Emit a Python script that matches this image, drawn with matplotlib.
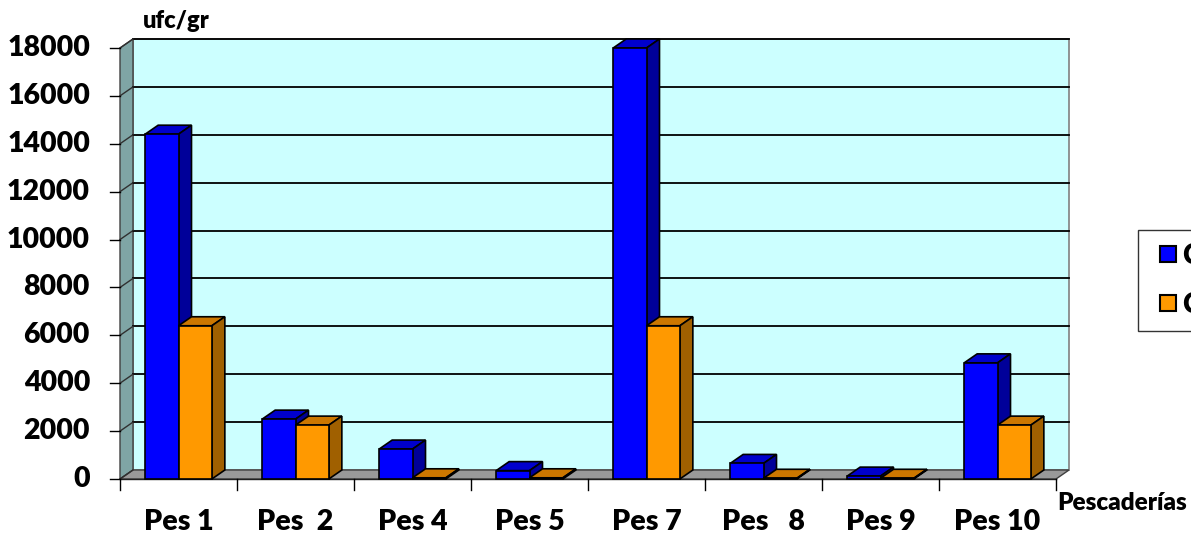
import matplotlib
matplotlib.use("Agg")
import matplotlib.pyplot as plt
from matplotlib.patches import Polygon
from matplotlib.lines import Line2D

categories = ["Pes 1", "Pes  2", "Pes 4", "Pes 5", "Pes 7", "Pes   8", "Pes 9", "Pes 10"]
series_names = ["Coliformes totales", "Coliformes fecales"]
blue_vals = [14400, 2500, 1250, 350, 18000, 650, 120, 4850]
orange_vals = [6400, 2250, 50, 50, 6400, 30, 30, 2250]
y_ticks = [0, 2000, 4000, 6000, 8000, 10000, 12000, 14000, 16000, 18000]

FONT = "Lato"
WEIGHT = "heavy"
W, H = 1191, 533
fig = plt.figure(figsize=(W / 100, H / 100), dpi=100)
fig.patch.set_facecolor("white")

x0p, x1p = 120, 1056
y0p, y1p = 479, 48
ax = fig.add_axes([x0p / W, 1 - y0p / H, (x1p - x0p) / W, (y0p - y1p) / H])
n = len(categories)
ax.set_xlim(-0.5, n - 0.5)
ax.set_ylim(0, 18000)
ax.axis("off")

px_x = (n) / (x1p - x0p)
px_y = 18000 / (y0p - y1p)
DX = 13 * px_x
DY = 9 * px_y
xl, xr = -0.5, n - 0.5
ymax = 18000

def poly(pts, fc, ec="black", lw=1.0, z=1):
    p = Polygon(pts, closed=True, facecolor=fc, edgecolor=ec, linewidth=lw,
                clip_on=False, zorder=z, joinstyle="miter")
    ax.add_patch(p)

poly([(xl + DX, DY), (xr + DX, DY), (xr + DX, ymax + DY), (xl + DX, ymax + DY)],
     "#ccffff", ec="#808080", lw=1.2, z=0)
poly([(xl, 0), (xl + DX, DY), (xl + DX, ymax + DY), (xl, ymax)],
     "#7fa5a5", ec="#404040", lw=1.0, z=0.5)
poly([(xl, 0), (xr, 0), (xr + DX, DY), (xl + DX, DY)],
     "#999999", ec="#404040", lw=1.0, z=0.5)

for t in y_ticks[1:]:
    ax.plot([xl + DX, xr + DX], [t + DY, t + DY], color="black", lw=1.3, zorder=0.6, clip_on=False)
for t in y_ticks:
    ax.plot([xl, xl + DX], [t, t + DY], color="#303030", lw=1.0, zorder=0.7, clip_on=False)
    ax.plot([xl - 10 * px_x, xl], [t, t], color="black", lw=1.0, zorder=0.7, clip_on=False)
    ax.text(xl - 30 * px_x, t, f"{t}", ha="right", va="center", fontsize=20.5,
            fontweight=WEIGHT, family=FONT, clip_on=False)

for i in range(n + 1):
    xb = -0.5 + i
    ax.plot([xb, xb], [0, -11 * px_y], color="black", lw=1.0, clip_on=False)
ax.plot([xl, xr], [0, 0], color="#202020", lw=1.0, clip_on=False, zorder=0.8)

for i, c in enumerate(categories):
    ax.text(i, -43 * px_y, c, ha="center", va="center", fontsize=20.5,
            fontweight=WEIGHT, family=FONT, clip_on=False)

bw = 0.285
colors = [("#0000ff", "#0000cc", "#000099"), ("#ff9900", "#cc7700", "#a06000")]

def bar3d(xs, v, cols, z):
    front, top, side = cols
    xe = xs + bw
    poly([(xs, v), (xe, v), (xe + DX, v + DY), (xs + DX, v + DY)], top, lw=1.2, z=z)
    poly([(xe, 0), (xe + DX, DY), (xe + DX, v + DY), (xe, v)], side, lw=1.2, z=z)
    poly([(xs, 0), (xe, 0), (xe, v), (xs, v)], front, lw=1.2, z=z + 0.1)

for i in range(n):
    bar3d(i - bw, blue_vals[i], colors[0], 2 + i * 0.01)
    bar3d(i, orange_vals[i], colors[1], 3 + i * 0.01)

ax.text(xl + 23 * px_x, ymax + 27 * px_y, "ufc/gr", ha="left", va="center",
        fontsize=17, fontweight=WEIGHT, family=FONT, clip_on=False)
fig.text(1057 / W, 1 - 503 / H, "Pescaderías", ha="left", va="center",
         fontsize=17.5, fontweight=WEIGHT, family=FONT)

handles = [Line2D([], [], linestyle="none", marker="s", markersize=11.5,
                  markerfacecolor="#0000ff", markeredgecolor="black", markeredgewidth=1.5),
           Line2D([], [], linestyle="none", marker="s", markersize=11.5,
                  markerfacecolor="#ff9900", markeredgecolor="black", markeredgewidth=1.5)]
leg = fig.legend(handles, series_names, loc="upper left",
                 bbox_to_anchor=(1138 / W, 1 - 230 / H),
                 prop={"family": FONT, "weight": WEIGHT, "size": 20},
                 frameon=True, fancybox=False, edgecolor="black",
                 handlelength=1.26, handleheight=0.75, handletextpad=-0.1,
                 labelspacing=0.85, borderpad=0.45, borderaxespad=0)
leg.get_frame().set_linewidth(1.0)

fig.savefig("out.png", dpi=100)
